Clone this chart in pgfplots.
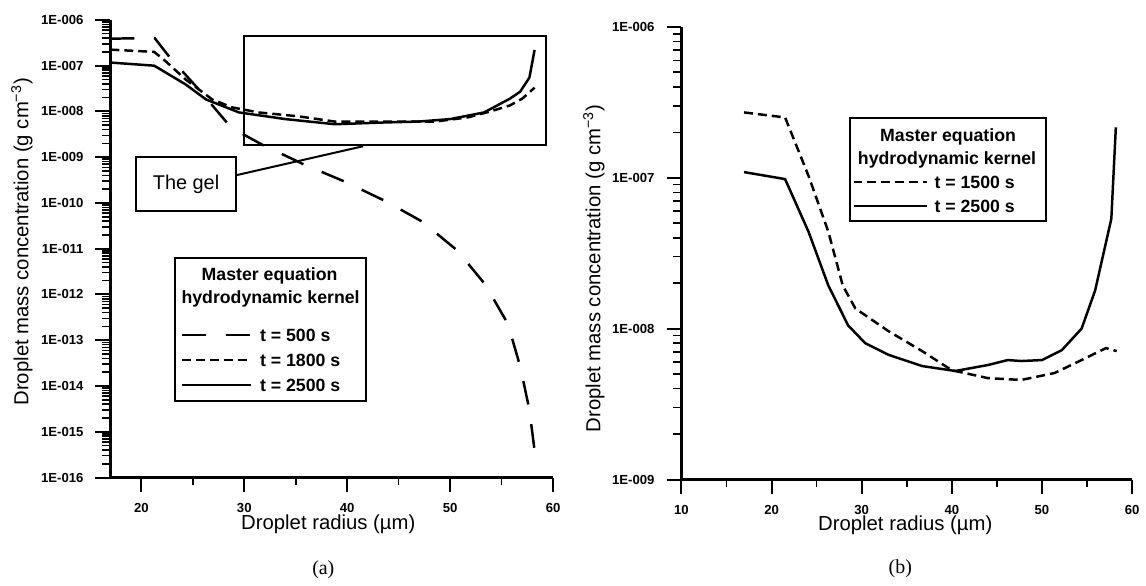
\documentclass[border=0pt]{standalone}
\usepackage{pgfplots}
\pgfplotsset{compat=1.18}
\usepackage{fontspec}
\setmainfont{Liberation Sans}
\newfontfamily\seriffont{Liberation Serif}

\tikzset{
  c500/.style={black, line width=1.25pt, dash pattern=on 12pt off 10pt},
  cdash/.style={black, line width=1.25pt, dash pattern=on 4.5pt off 2.5pt},
  csolid/.style={black, line width=1.25pt},
}

\begin{document}
\begin{tikzpicture}
\path[draw=none, fill=none] (0,0) rectangle (573pt,-291.5pt);

% ---------------- panel (a)
\begin{axis}[
  at={(55.5pt,-240pt)}, anchor=south west,
  scale only axis, ymode=log,
  axis x line*=bottom, axis y line*=left,
  axis line style={line width=1.4pt},
  tick align=outside,
  major tick length=7.5pt, minor tick length=4pt,
  every tick/.style={draw=black, line width=1pt},
  every minor tick/.append style={line width=0.8pt},
  /pgf/number format/assume math mode=true,
  tick label style={font=\fontsize{6.6}{7.5}\selectfont\bfseries},
  yticklabel style={xshift=-2.5pt},
  xticklabel style={yshift=-2pt},
  width=222.5pt, height=230pt,
  xmin=17, xmax=60, ymin=1e-16, ymax=1e-6,
  xtick={20,30,40,50,60}, minor xtick={25,35,45,55},
  ytick={1e-16,1e-15,1e-14,1e-13,1e-12,1e-11,1e-10,1e-9,1e-8,1e-7,1e-6},
  yticklabels={1E-016,1E-015,1E-014,1E-013,1E-012,1E-011,1E-010,1E-009,1E-008,1E-007,1E-006},
  minor ytick={2e-16,3e-16,4e-16,5e-16,6e-16,7e-16,8e-16,9e-16,
               2e-15,3e-15,4e-15,5e-15,6e-15,7e-15,8e-15,9e-15,
               2e-14,3e-14,4e-14,5e-14,6e-14,7e-14,8e-14,9e-14,
               2e-13,3e-13,4e-13,5e-13,6e-13,7e-13,8e-13,9e-13,
               2e-12,3e-12,4e-12,5e-12,6e-12,7e-12,8e-12,9e-12,
               2e-11,3e-11,4e-11,5e-11,6e-11,7e-11,8e-11,9e-11,
               2e-10,3e-10,4e-10,5e-10,6e-10,7e-10,8e-10,9e-10,
               2e-9,3e-9,4e-9,5e-9,6e-9,7e-9,8e-9,9e-9,
               2e-8,3e-8,4e-8,5e-8,6e-8,7e-8,8e-8,9e-8,
               2e-7,3e-7,4e-7,5e-7,6e-7,7e-7,8e-7,9e-7},
]
\addplot[c500] table {
x y
17 3.9e-7
21.3 4.0e-7
22.7 1.58e-7
25.6 3.0e-8
28.3 5.75e-9
29.9 3.16e-9
31.7 1.9e-9
35.7 7.1e-10
39.8 2.9e-10
43.7 1.1e-10
47.3 3.9e-11
50.7 9.1e-12
53.4 1.66e-12
55.6 2.3e-13
56.8 2.7e-14
57.7 3.0e-15
58.2 3.9e-16
};
\addplot[cdash] table {
x y
17 2.24e-7
21.25 2.0e-7
22.4 1.23e-7
24.3 5.0e-8
26.9 1.82e-8
28.8 1.23e-8
31.4 9.5e-9
35.3 7.8e-9
38.8 6.0e-9
43.7 6.0e-9
48.5 6.0e-9
51.7 7.4e-9
53.9 1.0e-8
55.8 1.35e-8
57.0 1.9e-8
58.2 3.3e-8
};
\addplot[csolid] table {
x y
17 1.17e-7
21.25 1.0e-7
24.3 3.9e-8
26.3 1.82e-8
29.5 9.5e-9
34.0 6.8e-9
38.8 5.25e-9
43.7 5.75e-9
46.9 6.0e-9
50.0 6.8e-9
53.3 9.5e-9
55.8 1.9e-8
56.8 2.7e-8
57.7 5.5e-8
58.2 2.2e-7
};
\end{axis}

% ---------------- panel (b)
\begin{axis}[
  at={(342.5pt,-241pt)}, anchor=south west,
  scale only axis, ymode=log,
  axis x line*=bottom, axis y line*=left,
  axis line style={line width=1.4pt},
  tick align=outside,
  major tick length=7.5pt, minor tick length=4pt,
  every tick/.style={draw=black, line width=1pt},
  every minor tick/.append style={line width=0.8pt},
  /pgf/number format/assume math mode=true,
  tick label style={font=\fontsize{6.6}{7.5}\selectfont\bfseries},
  yticklabel style={xshift=-2.5pt},
  xticklabel style={yshift=-2pt},
  width=226.5pt, height=227.5pt,
  xmin=10, xmax=60, ymin=1e-9, ymax=1e-6,
  xtick={10,20,30,40,50,60}, minor xtick={15,25,35,45,55},
  ytick={1e-9,1e-8,1e-7,1e-6},
  yticklabels={1E-009,1E-008,1E-007,1E-006},
  minor ytick={2e-9,3e-9,4e-9,5e-9,6e-9,7e-9,8e-9,9e-9,
               2e-8,3e-8,4e-8,5e-8,6e-8,7e-8,8e-8,9e-8,
               2e-7,3e-7,4e-7,5e-7,6e-7,7e-7,8e-7,9e-7},
]
\addplot[cdash] table {
x y
16.95 2.71e-7
21.5 2.51e-7
21.9 2.19e-7
24.1 1.03e-7
26.3 4.39e-8
27.9 1.93e-8
29.3 1.36e-8
33.0 9.6e-9
36.7 7.1e-9
40.0 5.3e-9
44.0 4.7e-9
47.7 4.57e-9
51.4 5.08e-9
54.4 6.19e-9
57.1 7.43e-9
58.3 7.1e-9
};
\addplot[csolid] table {
x y
16.95 1.09e-7
21.5 9.8e-8
24.1 4.39e-8
26.3 1.93e-8
28.5 1.05e-8
30.4 8.0e-9
33.0 6.7e-9
36.7 5.65e-9
40.4 5.24e-9
44.0 5.74e-9
46.2 6.19e-9
47.7 6.1e-9
50.0 6.19e-9
52.2 7.2e-9
54.4 1.0e-8
55.9 1.79e-8
57.7 5.35e-8
58.2 2.16e-7
};
\end{axis}

% ---------------- annotations (pixel coordinates)
\begin{scope}[x=0.5pt, y=-0.5pt]
  \node[rotate=90, font=\fontsize{10.2}{12}\selectfont] at (22,243) {Droplet mass concentration (g cm\textsuperscript{−3})};
  \node[rotate=90, font=\fontsize{10.2}{12}\selectfont] at (597,270) {Droplet mass concentration (g cm\textsuperscript{−3})};
  \node[font=\fontsize{10.2}{12}\selectfont] at (330,527) {Droplet radius (µm)};
  \node[font=\fontsize{10.2}{12}\selectfont] at (910,528) {Droplet radius (µm)};
  \node[font=\seriffont\fontsize{10}{12}\selectfont] at (325,573) {(a)};
  \node[font=\seriffont\fontsize{10}{12}\selectfont] at (905,572) {(b)};
  % gel box and callout
  \draw[line width=1pt] (245,36) rectangle (549,146);
  \draw[line width=1pt] (238,176) -- (365,147);
  \draw[line width=1pt, fill=white] (137,158) rectangle (237,212);
  \node[font=\fontsize{10}{12}\selectfont] at (187,185) {The gel};
  % legend (a)
  \draw[line width=1pt, fill=white] (176,259) rectangle (368,403);
  \begin{scope}[font=\fontsize{8.9}{10}\selectfont\bfseries]
    \node at (271,277) {Master equation};
    \node at (272,300) {hydrodynamic kernel};
    \draw[c500] (183,337) -- (252,337);
    \draw[cdash] (183,362) -- (252,362);
    \draw[csolid] (183,387) -- (252,387);
    \node[anchor=west, inner sep=0pt] at (261,337) {t = 500 s};
    \node[anchor=west, inner sep=0pt] at (261,362) {t = 1800 s};
    \node[anchor=west, inner sep=0pt] at (261,387) {t = 2500 s};
  \end{scope}
  % legend (b)
  \draw[line width=1pt, fill=white] (854,119) rectangle (1051,222);
  \begin{scope}[font=\fontsize{8.9}{10}\selectfont\bfseries]
    \node at (953,138) {Master equation};
    \node at (952,161) {hydrodynamic kernel};
    \draw[cdash] (858,183) -- (932,183);
    \draw[csolid] (858,207) -- (932,207);
    \node[anchor=west, inner sep=0pt] at (939,183) {t = 1500 s};
    \node[anchor=west, inner sep=0pt] at (939,207) {t = 2500 s};
  \end{scope}
\end{scope}
\end{tikzpicture}
\end{document}
